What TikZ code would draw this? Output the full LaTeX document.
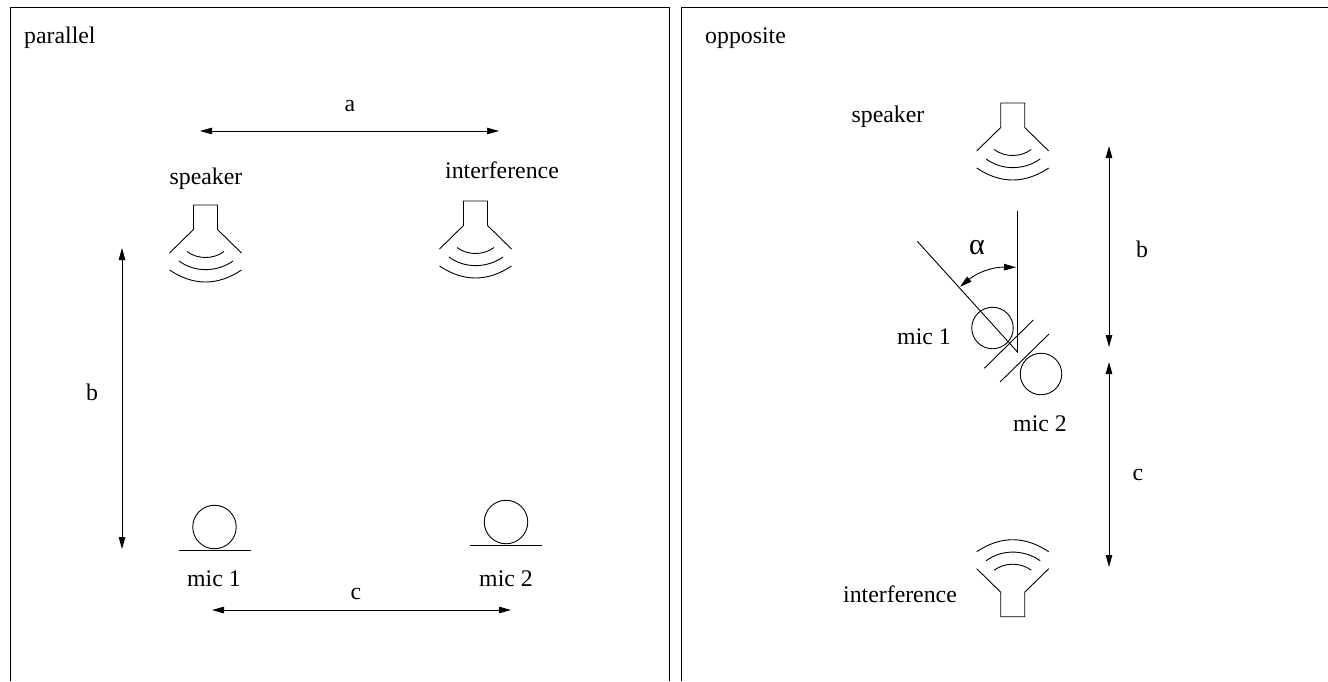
\documentclass[tikz,border=0pt]{standalone}
\usepackage{fontspec}
\setmainfont{Liberation Serif}
\usetikzlibrary{arrows.meta}
\tikzset{
  x=1pt,y=-1pt,
  line/.style={draw=black,line width=0.9pt},
  dim/.style={line,{Stealth[length=12pt,width=6.5pt,inset=0pt]}-{Stealth[length=12pt,width=6.5pt,inset=0pt]}},
  lab/.style={inner sep=0pt,anchor=base,font=\fontsize{23.8pt}{26pt}\selectfont},
  mic/.style={draw=black,line width=0.9pt,circle,inner sep=0pt},
  loudspeaker/.pic={
    \draw[line] (-24,48) -- (0,24.5) -- (0,0) -- (24,0) -- (24,24.5) -- (48,48);
    \draw[line] (-6.5,46.5) .. controls (4,54.5) and (20,54.5) .. (30.5,46.5);
    \draw[line] (-14.5,56) .. controls (1,67.5) and (23,67.5) .. (39.5,56);
    \draw[line] (-24,65) .. controls (0,81) and (24,81) .. (48,65);
  }
}
\begin{document}
\begin{tikzpicture}
\useasboundingbox (0,0) rectangle (1328,681);
% frames
\coordinate (lbl) at (10,681);
\coordinate (ltl) at (10,7);
\coordinate (ltr) at (669.5,7);
\coordinate (lbr) at (669.5,681);
\coordinate (rbl) at (681.5,681);
\coordinate (rtl) at (681.5,7);
\coordinate (rtr) at (1328,7);
\draw[line] (lbl) -- (ltl) -- (ltr) -- (lbr);
\draw[line] (rbl) -- (rtl) -- (rtr);
\node[lab,anchor=base west] (parallel) at (24,43.5) {parallel};
\node[lab,anchor=base west] (opposite) at (705,43.5) {opposite};
% left panel
\coordinate (a1) at (200,131); \coordinate (a2) at (499,131);
\draw[dim] (a1) -- (a2);
\coordinate (b1) at (122,248); \coordinate (b2) at (122,549);
\draw[dim] (b1) -- (b2);
\coordinate (c1) at (212,610); \coordinate (c2) at (511,610);
\draw[dim] (c1) -- (c2);
\node[lab] (la) at (350,111) {a};
\node[lab] (lb) at (92,400) {b};
\node[lab] (lc) at (356,599) {c};
\node[lab] (lsp) at (206,184) {speaker};
\node[lab] (lint) at (502,178) {interference};
\pic at (193.5,205) {loudspeaker};
\pic at (463.5,201) {loudspeaker};
\node[mic,minimum size=43.5pt] (m1) at (214.5,527) {};
\coordinate (m1a) at (179,550.5); \coordinate (m1b) at (251,550.5);
\draw[line] (m1a) -- (m1b);
\node[mic,minimum size=43.5pt] (m2) at (506,522) {};
\coordinate (m2a) at (470,545.5); \coordinate (m2b) at (542,545.5);
\draw[line] (m2a) -- (m2b);
\node[lab] (lm1) at (214,586) {mic 1};
\node[lab] (lm2) at (506,586) {mic 2};
% right panel
\pic at (1000.7,103) {loudspeaker};
\pic[yscale=-1] at (1000.7,616.7) {loudspeaker};
\node[lab] (rsp) at (888,122) {speaker};
\node[lab] (rint) at (900,602) {interference};
\coordinate (rb1) at (1109,146); \coordinate (rb2) at (1109,347);
\draw[dim] (rb1) -- (rb2);
\coordinate (rc1) at (1109,362); \coordinate (rc2) at (1109,567);
\draw[dim] (rc1) -- (rc2);
\node[lab] (rlb) at (1142,257) {b};
\node[lab] (rlc) at (1138,480) {c};
\node[mic,minimum size=41.5pt] (rm1) at (992.5,328) {};
\node[mic,minimum size=41.5pt] (rm2) at (1041,374) {};
\coordinate (p1a) at (984.3,368.3); \coordinate (p1b) at (1033.3,320);
\coordinate (p2a) at (1000,382); \coordinate (p2b) at (1049,334);
\draw[line] (p1a) -- (p1b);
\draw[line] (p2a) -- (p2b);
\coordinate (piv) at (1017.5,352);
\coordinate (vt) at (1017.5,211);
\coordinate (dt) at (917.3,241.3);
\draw[line] (vt) -- (piv) -- (dt);
\coordinate (ang1) at (1016,267.3); \coordinate (ang2) at (960,286.7);
\draw[dim] (ang1) to[bend right=20] (ang2);
\node[lab,font=\fontsize{30pt}{32pt}\selectfont] (lalpha) at (977,254) {α};
\node[lab] (rm1l) at (924,344) {mic 1};
\node[lab] (rm2l) at (1040,431) {mic 2};
\end{tikzpicture}
\end{document}
